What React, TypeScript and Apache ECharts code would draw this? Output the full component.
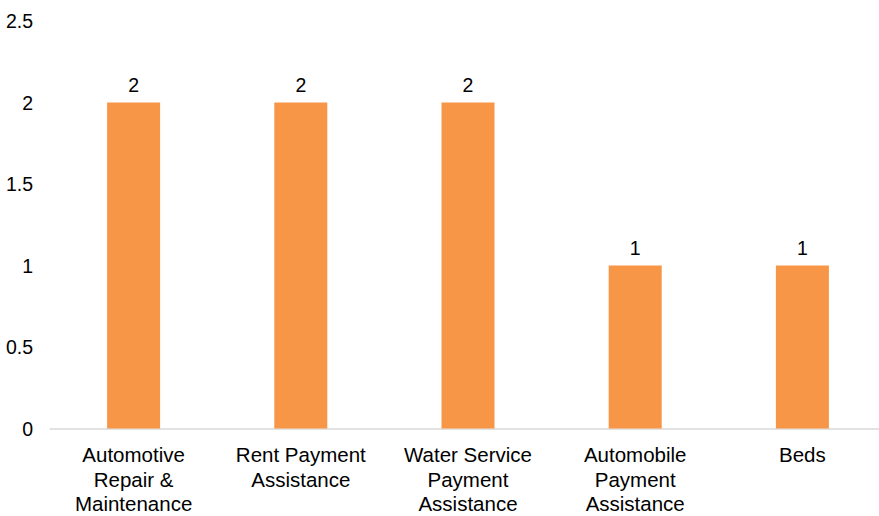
import React, { useEffect, useRef } from "react";
import * as echarts from "echarts";

const categories = [
  "Automotive\nRepair &\nMaintenance",
  "Rent Payment\nAssistance",
  "Water Service\nPayment\nAssistance",
  "Automobile\nPayment\nAssistance",
  "Beds",
];
const values = [2, 2, 2, 1, 1];
const yMin = 0;
const yMax = 2.5;
const yStep = 0.5;

export default function App() {
  const ref = useRef<HTMLDivElement>(null);
  useEffect(() => {
    if (!ref.current) return;
    const chart = echarts.init(ref.current, undefined, { renderer: "svg" });
    const font = "'Liberation Sans', Arial, sans-serif";
    chart.setOption({
      animation: false,
      backgroundColor: "#ffffff",
      grid: { left: 50, right: 0, top: 21, bottom: 83, containLabel: false },
      xAxis: {
        type: "category",
        data: categories,
        axisLine: { show: true, lineStyle: { color: "#d9d9d9", width: 1.5 } },
        axisTick: { show: false },
        axisLabel: {
          color: "#000000",
          fontFamily: font,
          fontSize: 20.5,
          lineHeight: 24.5,
          margin: 14,
          interval: 0,
        },
      },
      yAxis: {
        type: "value",
        min: yMin,
        max: yMax,
        interval: yStep,
        splitLine: { show: false },
        axisLine: { show: false },
        axisTick: { show: false },
        axisLabel: {
          color: "#000000",
          fontFamily: font,
          fontSize: 19.5,
          margin: 17,
          formatter: (v: number) => String(v),
        },
      },
      series: [
        {
          type: "bar",
          data: values,
          barWidth: 53,
          itemStyle: { color: "#F79646" },
          label: {
            show: true,
            position: "top",
            distance: 8,
            color: "#000000",
            fontFamily: font,
            fontSize: 19.5,
          },
        },
      ],
    });
    return () => chart.dispose();
  }, []);
  return (
    <div
      style={{
        position: "fixed",
        left: 0,
        top: 0,
        width: 879,
        height: 516,
        overflow: "hidden",
        background: "#ffffff",
      }}
    >
      <div ref={ref} style={{ width: 886, height: 516 }} />
    </div>
  );
}
